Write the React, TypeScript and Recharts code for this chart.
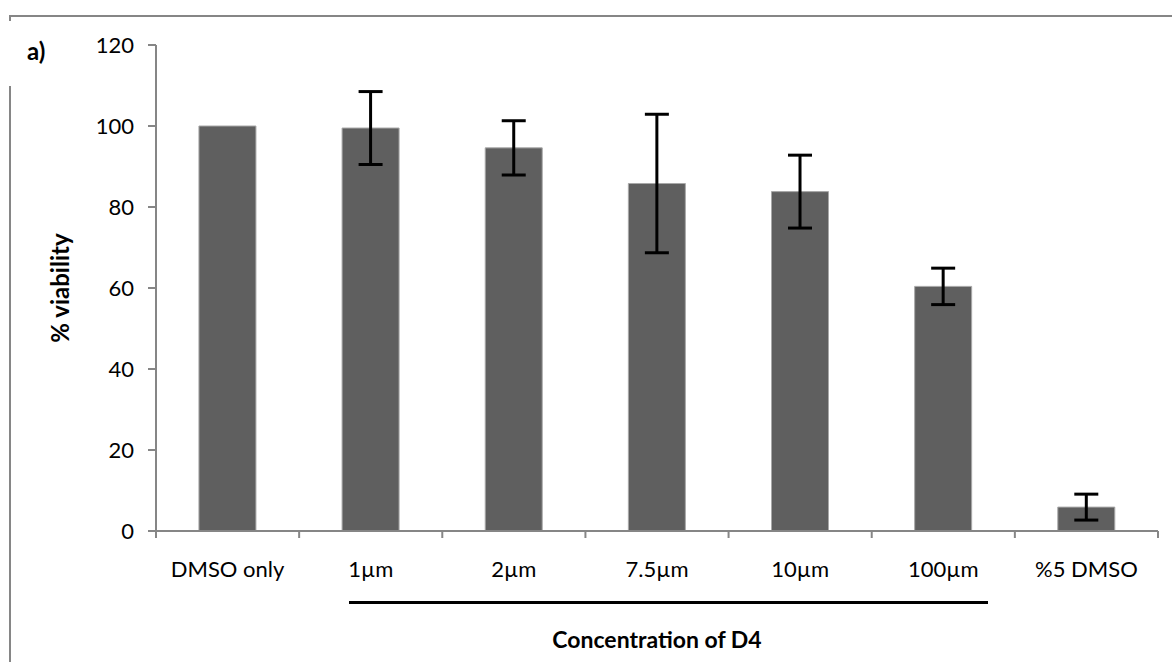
import React from 'react';
import { BarChart, Bar, XAxis, YAxis, ErrorBar } from 'recharts';

// values
const categories = ['DMSO only', '1µm', '2µm', '7.5µm', '10µm', '100µm', '%5 DMSO'];
const viability = [100, 99.5, 94.6, 85.8, 83.8, 60.4, 5.9];
const errors = [0, 9, 6.7, 17.1, 9, 4.5, 3.2];
const yTicks = [0, 20, 40, 60, 80, 100, 120];

const data = categories.map((name, i) => ({ name, value: viability[i], err: errors[i] }));

const FONT = 'Lato, "Open Sans", sans-serif';
const AXIS = '#868686';

const CategoryTick = (props: any) => {
  const { x, y, payload, index, width } = props;
  const band = width / categories.length;
  const left = x - band / 2;
  return (
    <g>
      <line x1={left} y1={y - 8} x2={left} y2={y - 1} stroke={AXIS} strokeWidth={2} />
      {index === categories.length - 1 && (
        <line x1={left + band} y1={y - 8} x2={left + band} y2={y - 1} stroke={AXIS} strokeWidth={2} />
      )}
      <text x={x} y={y + 38} textAnchor="middle" fill="#000" fontFamily={FONT} fontSize={22}>
        {payload.value}
      </text>
    </g>
  );
};

export default function App() {
  return (
    <div style={{ position: 'absolute', left: 0, top: 0, width: 1172, height: 662, background: '#fff' }}>
      {/* outer frame */}
      <div style={{ position: 'absolute', left: 9, top: 15, width: 1200, height: 0, borderTop: `2px solid ${AXIS}` }} />
      <div style={{ position: 'absolute', left: 9, top: 15, width: 0, height: 6, borderLeft: `2px solid ${AXIS}` }} />
      <div style={{ position: 'absolute', left: 9, top: 86, width: 0, height: 600, borderLeft: `2px solid ${AXIS}` }} />
      <div style={{ position: 'absolute', left: 27, top: 36, fontFamily: FONT, fontWeight: 700, fontSize: 24, color: '#000' }}>a)</div>
      <BarChart
        width={1172}
        height={662}
        data={data}
        margin={{ top: 45, right: 14, left: 0, bottom: 91 }}
        barCategoryGap="30%"
        style={{ position: 'absolute', left: 0, top: 0 }}
      >
        <XAxis
          dataKey="name"
          height={40}
          axisLine={{ stroke: AXIS, strokeWidth: 2 }}
          tickLine={false}
          interval={0}
          tick={<CategoryTick />}
          label={{ value: 'Concentration of D4', position: 'insideBottom', offset: -77, fill: '#000', fontFamily: FONT, fontWeight: 700, fontSize: 23 }}
        />
        <YAxis
          width={156}
          domain={[0, 120]}
          ticks={yTicks}
          interval={0}
          axisLine={{ stroke: AXIS, strokeWidth: 2 }}
          tickLine={{ stroke: AXIS, strokeWidth: 2 }}
          tickSize={8}
          tickMargin={14}
          tick={{ fill: '#000', fontFamily: FONT, fontSize: 22 }}
          label={{ value: '% viability', angle: -90, position: 'insideLeft', offset: 60, fill: '#000', fontFamily: FONT, fontWeight: 700, fontSize: 24, style: { textAnchor: 'middle' } }}
        />
        <Bar dataKey="value" fill="#5f5f5f" stroke="#a8a8a8" strokeWidth={1} isAnimationActive={false}>
          <ErrorBar dataKey="err" width={12} stroke="#000" strokeWidth={3} direction="y" />
        </Bar>
      </BarChart>
      {/* bracket line under the D4 concentrations */}
      <div style={{ position: 'absolute', left: 349, top: 601, width: 639, height: 3, background: '#000' }} />
    </div>
  );
}
